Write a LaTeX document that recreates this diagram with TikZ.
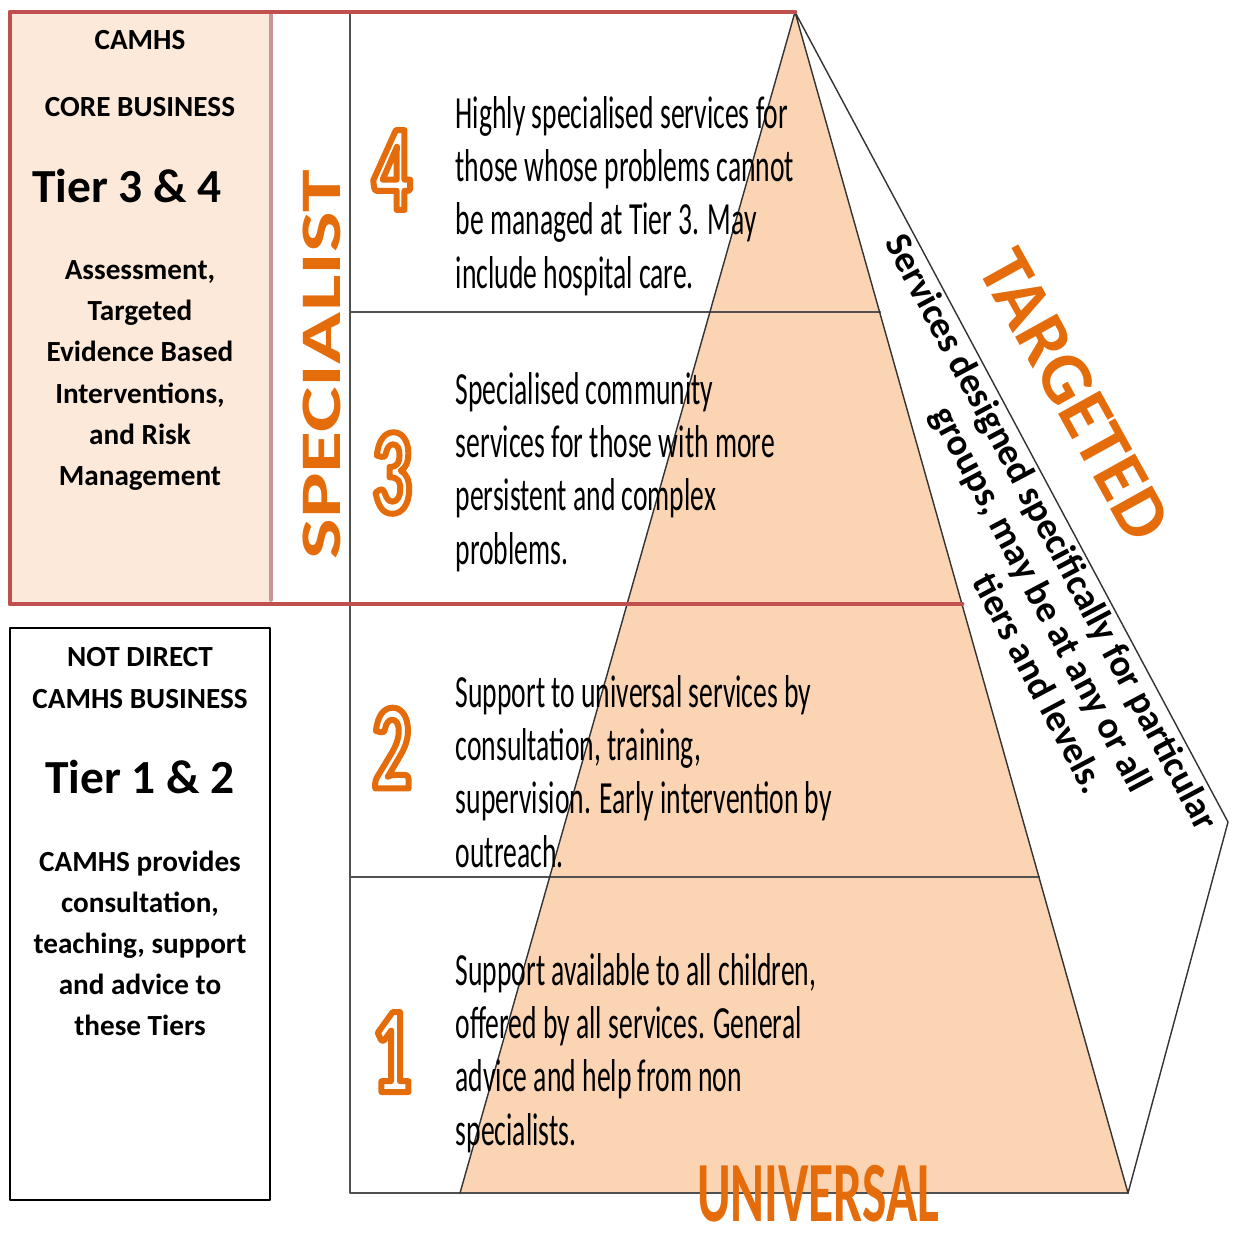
\documentclass[tikz,border=0pt]{standalone}
\usepackage{fontspec}
\usepackage{xcolor}
\setmainfont{Carlito}
\newfontfamily\narrowfont[FakeStretch=0.6]{Carlito}
\newfontfamily\digitfont[FakeStretch=0.62]{Carlito Bold}
\newfontfamily\widefont[FakeStretch=1.5]{Carlito}
\definecolor{tierorange}{RGB}{228,108,10}
\definecolor{camhsred}{RGB}{192,80,77}
\definecolor{corefill}{RGB}{253,233,217}
\definecolor{coreedge}{RGB}{200,150,150}
\definecolor{pyrfill}{RGB}{251,212,180}
\definecolor{rulegray}{RGB}{80,80,80}
% white digit with an orange outline
\newcommand\outlined[1]{\textcolor{white}{\special{pdf:literal direct 0.894 0.424 0.039 RG 1.7 w 2 Tr}#1\special{pdf:literal direct 0 Tr}}}
\tikzset{
  rule/.style={draw=rulegray,line width=0.6pt},
  pyredge/.style={draw=black!80,line width=0.4pt},
  redframe/.style={draw=camhsred,line width=1.4pt},
  boxtext/.style={font=\bfseries\fontsize{8.3}{11.7}\selectfont,align=center,inner sep=0pt},
  bigtext/.style={font=\bfseries\fontsize{13.5}{15}\selectfont,inner sep=0pt,anchor=base},
  tiertext/.style={font=\narrowfont\fontsize{13.1}{15.1}\selectfont,align=left,anchor=north west,inner sep=0pt},
  tiernum/.style={font=\digitfont\fontsize{35}{35}\selectfont,inner sep=0pt},
  bandtext/.style={font=\bfseries\fontsize{10.7}{12}\selectfont,rotate=-62,inner sep=0pt},
  heading/.style={text=tierorange,inner sep=0pt}
}
\begin{document}
\begin{tikzpicture}[x=0.01cm,y=-0.01cm,line cap=round,line join=round]
  \useasboundingbox (0,0) rectangle (1234,1232);
  % corners of the pyramid and of the side band
  \coordinate (apex) at (795,12);
  \coordinate (baseL) at (460,1193);
  \coordinate (baseR) at (1128,1193);
  \coordinate (bandtip) at (1228,822);

  \fill[corefill] (12,14) rectangle (271,602);
  \fill[pyrfill] (apex) -- (baseL) -- (baseR) -- cycle;
  \draw[rule] (350,12) -- (350,1193) -- (baseR);
  \draw[rule] (350,312) -- (880,312);
  \draw[rule] (350,877) -- (1039,877);
  \draw[pyredge] (baseL) -- (apex) -- (baseR) -- (bandtip) -- (apex);
  \draw[coreedge,line width=1pt] (271,14) -- (271,600);
  \draw[redframe] (apex) -- (10,12) -- (10,604) -- (962,604);
  \draw[line width=0.5pt] (10,628) rectangle (270,1200);

  % core business box
  \node[boxtext,anchor=base] (camhs) at (140,49) {CAMHS};
  \node[boxtext,anchor=base] (core) at (140,116) {CORE BUSINESS};
  \node[bigtext] (tierhigh) at (127,202) {Tier 3 \& 4};
  \node[boxtext,anchor=north] (corework) at (140,260)
    {Assessment,\\Targeted\\Evidence Based\\Interventions,\\and Risk\\Management};

  % not direct box
  \node[boxtext,anchor=base] (notdirect) at (140,666) {NOT DIRECT};
  \node[boxtext,anchor=base] (notcamhs) at (140,708) {CAMHS BUSINESS};
  \node[bigtext] (tierlow) at (140,793) {Tier 1 \& 2};
  \node[boxtext,anchor=north] (notwork) at (140,850)
    {CAMHS provides\\consultation,\\teaching, support\\and advice to\\these Tiers};

  % tier numbers
  \node[tiernum] (num4) at (392,170) {\outlined{4}};
  \node[tiernum] (num3) at (392,473) {\outlined{3}};
  \node[tiernum] (num2) at (392,748) {\outlined{2}};
  \node[tiernum] (num1) at (392,1052) {\outlined{1}};

  % tier descriptions
  \node[tiertext] (text4) at (455,96)
    {Highly specialised services for\\those whose problems cannot\\be managed at Tier 3. May\\include hospital care.};
  \node[tiertext] (text3) at (455,372)
    {Specialised community\\services for those with more\\persistent and complex\\problems.};
  \node[tiertext] (text2) at (455,675)
    {Support to universal services by\\consultation, training,\\supervision. Early intervention  by\\outreach.};
  \node[tiertext] (text1) at (455,953)
    {Support available to all children,\\offered by all services. General\\advice and help from non\\specialists.};

  % headings
  \node[heading,rotate=90,font=\widefont\bfseries\fontsize{16.3}{16.3}\selectfont] (specialist) at (322,365) {SPECIALIST};
  \node[heading,rotate=-61,font=\bfseries\fontsize{21}{21}\selectfont] (targeted) at (1075,395) {TARGETED};
  \node[heading,font=\narrowfont\bfseries\fontsize{24.4}{24.4}\selectfont] (universal) at (818,1194) {UNIVERSAL};

  % side band text
  \node[bandtext] (band1) at (1050,533) {Services designed specifically for particular};
  \node[bandtext] (band2) at (1040,600) {groups, may be at any or all};
  \node[bandtext] (band3) at (1040,683) {tiers and levels.};
\end{tikzpicture}
\end{document}
